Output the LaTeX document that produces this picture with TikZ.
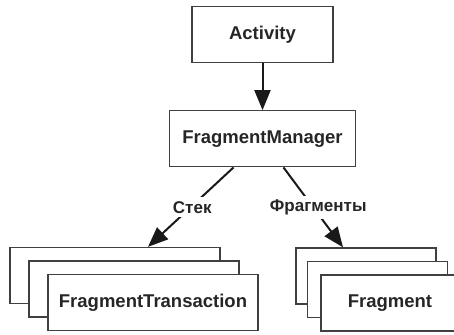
\documentclass[tikz,border=0pt]{standalone}
\usepackage{fontspec}
\setmainfont{Liberation Sans}
\usetikzlibrary{arrows.meta,positioning}

\begin{document}
\begin{tikzpicture}[x=0.5pt,y=-0.5pt,>={Triangle[length=10pt,width=8pt]},
  box/.style={draw=black!75,fill=white,line width=0.65pt,minimum height=28pt,
    inner sep=0pt,text=black!85,font=\bfseries\fontsize{9.25}{11}\selectfont},
  lbl/.style={fill=white,inner sep=2pt,text=black!85,font=\bfseries\fontsize{8.5}{10}\selectfont},
  link/.style={->,line width=1pt,draw=black!90}]
  \useasboundingbox (0,0) rectangle (454,334);
  \clip (0,0) rectangle (454,334);
  \node[box,minimum width=70.5pt] (act) at (262.5,34.5) {Activity};
  \node[box,minimum width=93pt,below=23.5pt of act] (mgr) {FragmentManager};
  % stack of transactions
  \node[box,minimum width=105pt] (trans3) at (115,275.5) {};
  \node[box,minimum width=105pt,xshift=9.5pt,yshift=-6.75pt] (trans2) at (trans3) {};
  \node[box,minimum width=105pt,xshift=9.5pt,yshift=-6.75pt] (trans1) at (trans2) {FragmentTransaction};
  % stack of fragments
  \node[box,minimum width=70pt] (frag3) at (366,276) {};
  \node[box,minimum width=70pt,xshift=5.75pt,yshift=-6.75pt] (frag2) at (frag3) {};
  \node[box,minimum width=69pt,xshift=6.25pt,yshift=-6.75pt] (frag1) at (frag2) {Fragment};
  \draw[link] (act) -- (mgr);
  \draw[link] ([xshift=-14.5pt]mgr.south) -- node[lbl,xshift=0.75pt]{Стек} ([xshift=16.5pt]trans3.north);
  \draw[link] ([xshift=10.5pt]mgr.south) -- node[lbl,xshift=2.5pt]{Фрагменты} ([xshift=-11.5pt]frag3.north);
\end{tikzpicture}
\end{document}
